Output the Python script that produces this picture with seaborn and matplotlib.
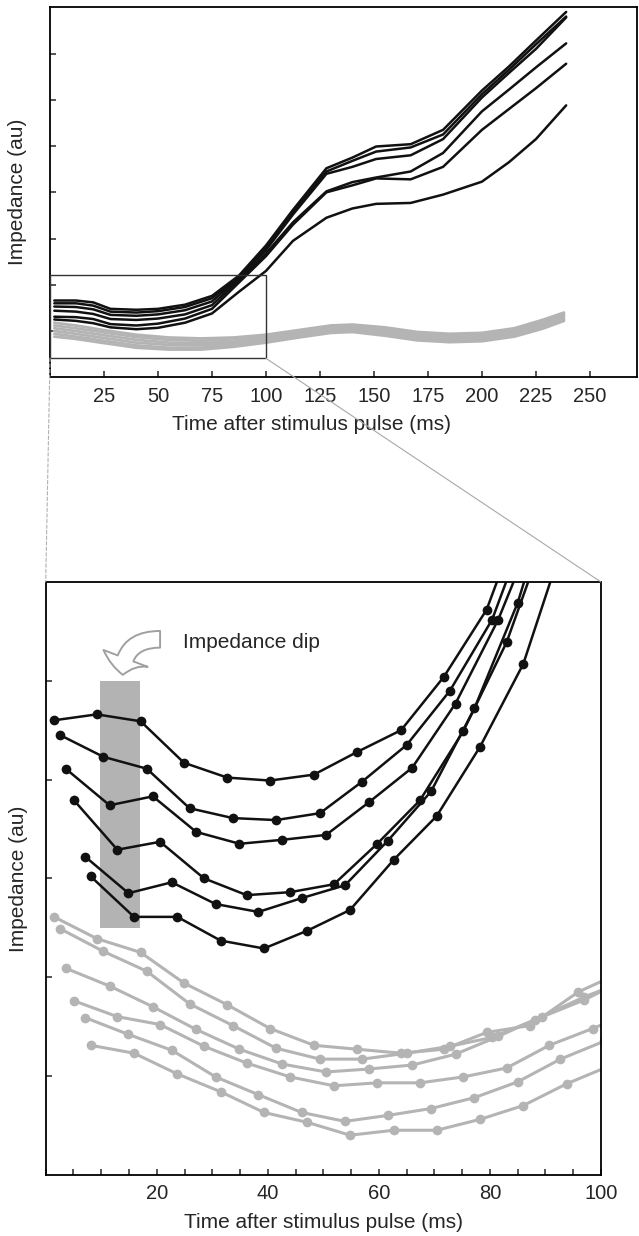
import numpy as np
import pandas as pd
import matplotlib
matplotlib.use("Agg")
import matplotlib.pyplot as plt
import matplotlib.patches as mpatches
from matplotlib.ticker import MultipleLocator
import seaborn as sns

# ------------------------------------------------------------------
# Data: top panel (full time course, smooth traces)
# ------------------------------------------------------------------
t_black_full = [2, 12, 20, 28, 40, 50, 62.5, 75, 87.5, 100, 112.5, 128, 140, 151, 167, 182, 200, 212.5, 225, 239]
black_full = [
    [1.66, 1.66, 1.62, 1.48, 1.46, 1.48, 1.57, 1.76, 2.20, 2.85, 3.62, 4.52, 4.75, 4.99, 5.04, 5.35, 6.20, 6.72, 7.28, 7.90],
    [1.60, 1.60, 1.55, 1.42, 1.40, 1.43, 1.52, 1.71, 2.17, 2.80, 3.58, 4.45, 4.68, 4.88, 4.97, 5.25, 6.12, 6.65, 7.20, 7.80],
    [1.53, 1.52, 1.47, 1.35, 1.33, 1.36, 1.45, 1.64, 2.14, 2.75, 3.52, 4.40, 4.55, 4.72, 4.80, 5.15, 6.05, 6.58, 7.10, 7.78],
    [1.44, 1.42, 1.37, 1.26, 1.24, 1.27, 1.36, 1.56, 2.10, 2.68, 3.35, 4.02, 4.22, 4.32, 4.45, 4.85, 5.75, 6.22, 6.70, 7.22],
    [1.31, 1.30, 1.26, 1.15, 1.12, 1.16, 1.27, 1.48, 2.05, 2.62, 3.30, 4.00, 4.15, 4.30, 4.28, 4.55, 5.35, 5.80, 6.25, 6.78],
    [1.25, 1.22, 1.17, 1.08, 1.04, 1.07, 1.18, 1.38, 1.85, 2.30, 2.95, 3.45, 3.65, 3.75, 3.77, 3.95, 4.23, 4.65, 5.15, 5.88],
]

t_gray_full = [2, 12, 25, 40, 55, 70, 85, 100, 115, 130, 140, 155, 170, 185, 200, 215, 228, 238]
gray_full = [
    [1.18, 1.12, 1.02, 0.92, 0.86, 0.84, 0.86, 0.92, 1.02, 1.12, 1.14, 1.08, 0.98, 0.94, 0.96, 1.06, 1.24, 1.40],
    [1.12, 1.06, 0.97, 0.87, 0.81, 0.79, 0.82, 0.89, 0.99, 1.09, 1.11, 1.05, 0.95, 0.91, 0.93, 1.03, 1.20, 1.36],
    [1.06, 1.00, 0.91, 0.81, 0.75, 0.74, 0.77, 0.85, 0.95, 1.05, 1.08, 1.02, 0.92, 0.88, 0.90, 1.00, 1.17, 1.33],
    [1.00, 0.94, 0.85, 0.75, 0.70, 0.69, 0.73, 0.81, 0.92, 1.02, 1.05, 0.98, 0.88, 0.84, 0.86, 0.96, 1.13, 1.29],
    [0.94, 0.88, 0.79, 0.69, 0.64, 0.64, 0.69, 0.78, 0.89, 0.99, 1.01, 0.94, 0.84, 0.80, 0.82, 0.92, 1.09, 1.25],
    [0.88, 0.83, 0.74, 0.64, 0.60, 0.60, 0.66, 0.75, 0.86, 0.96, 0.98, 0.90, 0.80, 0.76, 0.78, 0.88, 1.05, 1.22],
]

# ------------------------------------------------------------------
# Data: bottom panel (first 100 ms, sampled points)
# ------------------------------------------------------------------
t_zoom = [
    [1.5, 9.2, 17.1, 24.9, 32.7, 40.4, 48.3, 56.1, 64.0, 71.7, 79.4, 87.2, 95.9, 103.7],
    [2.6, 10.4, 18.2, 25.9, 33.7, 41.5, 49.4, 57.0, 65.0, 72.8, 80.4, 88.2, 97.0, 104.5],
    [3.6, 11.5, 19.3, 27.1, 34.9, 42.6, 50.5, 58.2, 66.0, 73.8, 81.5, 89.3, 97.0, 104.8],
    [5.1, 12.9, 20.6, 28.5, 36.2, 44.0, 51.9, 59.7, 67.4, 75.2, 83.0, 90.7, 98.5, 106.0],
    [7.1, 14.9, 22.7, 30.6, 38.3, 46.1, 53.9, 61.6, 69.4, 77.2, 85.0, 92.7, 100.5],
    [8.1, 15.9, 23.7, 31.5, 39.3, 47.1, 54.8, 62.7, 70.4, 78.2, 86.0, 93.8, 101.5],
]
black_zoom = [
    [4.60, 4.66, 4.59, 4.17, 4.02, 3.99, 4.05, 4.28, 4.50, 5.04, 5.72, 6.90],
    [4.45, 4.23, 4.11, 3.71, 3.61, 3.59, 3.66, 3.98, 4.35, 4.90, 5.62, 6.80],
    [4.11, 3.74, 3.83, 3.47, 3.35, 3.39, 3.44, 3.77, 4.12, 4.77, 5.62, 6.70],
    [3.79, 3.29, 3.37, 3.00, 2.83, 2.86, 2.94, 3.35, 3.79, 4.49, 5.39, 6.60],
    [3.22, 2.85, 2.96, 2.74, 2.66, 2.80, 2.93, 3.38, 3.88, 4.72, 5.79, 7.20],
    [3.02, 2.61, 2.61, 2.37, 2.29, 2.47, 2.68, 3.19, 3.63, 4.33, 5.17, 6.50],
]
gray_zoom = [
    [2.61, 2.39, 2.25, 1.94, 1.72, 1.48, 1.31, 1.27, 1.23, 1.27, 1.44, 1.51, 1.85, 2.05],
    [2.49, 2.26, 2.06, 1.73, 1.51, 1.28, 1.17, 1.17, 1.23, 1.30, 1.39, 1.57, 1.77, 1.98],
    [2.09, 1.91, 1.70, 1.47, 1.27, 1.12, 1.04, 1.07, 1.11, 1.22, 1.40, 1.60, 1.80, 1.97],
    [1.76, 1.60, 1.52, 1.30, 1.13, 0.99, 0.90, 0.93, 0.93, 0.99, 1.08, 1.31, 1.48, 1.65],
    [1.59, 1.42, 1.26, 0.99, 0.81, 0.63, 0.54, 0.60, 0.67, 0.78, 0.94, 1.17, 1.35],
    [1.31, 1.23, 1.02, 0.84, 0.63, 0.53, 0.40, 0.45, 0.45, 0.56, 0.70, 0.92, 1.10],
]

# zoom window shown in the top panel, dip window and annotation
zoom_x = (0, 100)
zoom_y = (0.41, 2.21)
dip_x = (9.8, 17.0)
dip_y = (2.5, 5.0)


def long_frame(times, series):
    rows = []
    for i, ys in enumerate(series):
        ts = times[i] if isinstance(times[0], list) else times
        for t, v in zip(ts, ys):
            rows.append({"trace": i, "time": t, "value": v})
    return pd.DataFrame(rows)


df_black_full = long_frame(t_black_full, black_full)
df_gray_full = long_frame(t_gray_full, gray_full)
df_black_zoom = long_frame(t_zoom, black_zoom)
df_gray_zoom = long_frame(t_zoom, gray_zoom)

# ------------------------------------------------------------------
# Plot
# ------------------------------------------------------------------
sns.set_style("ticks")
plt.rcParams["font.family"] = ["Liberation Sans", "DejaVu Sans"]

BLACK = "#111111"
GRAY = "#b4b4b4"
W, H = 639, 1236

fig = plt.figure(figsize=(W / 100, H / 100), dpi=100)
ax_top = fig.add_axes([50 / W, 1 - 377.3 / H, 587 / W, 370 / H])
ax_bot = fig.add_axes([45.7 / W, 1 - 1174.7 / H, 555.3 / W, 592.7 / H])

# --- top panel
sns.lineplot(data=df_gray_full, x="time", y="value", units="trace", estimator=None,
             color=GRAY, lw=2.0, ax=ax_top, legend=False)
sns.lineplot(data=df_black_full, x="time", y="value", units="trace", estimator=None,
             color=BLACK, lw=1.8, ax=ax_top, legend=False)
ax_top.add_patch(mpatches.Rectangle((zoom_x[0], zoom_y[0]), zoom_x[1] - zoom_x[0],
                                    zoom_y[1] - zoom_y[0], fill=False,
                                    ec="#333333", lw=1.0, zorder=5))
ax_top.set_xlim(0, 271.8)
ax_top.set_ylim(0, 8)
ax_top.set_xticks(np.arange(25, 251, 25))
ax_top.set_yticks(np.arange(1, 8))
ax_top.set_yticklabels([])

# --- bottom panel
ax_bot.add_patch(mpatches.Rectangle((dip_x[0], dip_y[0]), dip_x[1] - dip_x[0],
                                    dip_y[1] - dip_y[0], color="#b3b3b3",
                                    lw=0, zorder=0))
sns.lineplot(data=df_gray_zoom, x="time", y="value", units="trace", estimator=None,
             color=GRAY, lw=2.2, marker="o", markersize=7, markeredgewidth=0,
             ax=ax_bot, legend=False)
sns.lineplot(data=df_black_zoom, x="time", y="value", units="trace", estimator=None,
             color=BLACK, lw=1.8, marker="o", markersize=7, markeredgewidth=0,
             ax=ax_bot, legend=False)
ax_bot.set_xlim(0, 100)
ax_bot.set_ylim(0, 6)
ax_bot.set_xticks([20, 40, 60, 80, 100])
ax_bot.xaxis.set_minor_locator(MultipleLocator(5))
ax_bot.set_yticks(np.arange(1, 6))
ax_bot.set_yticklabels([])

ax_bot.annotate("", xy=(13.9, 5.06), xytext=(20.6, 5.42),
                arrowprops=dict(arrowstyle="simple,head_length=0.6,head_width=1.7,tail_width=0.6",
                                connectionstyle="angle3,angleA=0,angleB=90",
                                fc="white", ec="#a0a0a0", lw=1.4,
                                shrinkA=0, shrinkB=0, mutation_scale=20))
ax_bot.text(24.8, 5.39, "Impedance dip", fontsize=15, va="center", ha="left")

# --- common styling
for ax in (ax_top, ax_bot):
    for sp in ax.spines.values():
        sp.set_visible(True)
        sp.set_linewidth(1.3)
        sp.set_color("black")
    ax.tick_params(which="both", direction="in", length=4.5, width=1.1,
                   labelsize=14.5, pad=7)
    ax.set_xlabel("Time after stimulus pulse (ms)", fontsize=15)
    ax.set_ylabel("Impedance (au)", fontsize=15)

ax_top.xaxis.set_label_coords(0.446, -38 / 370)
ax_top.yaxis.set_label_coords(-0.040, 0.5)
ax_bot.xaxis.set_label_coords(0.5, -38 / 592.7)
ax_bot.yaxis.set_label_coords(-0.031, 0.5)

# zoom connector lines
con_l = mpatches.ConnectionPatch(xyA=(zoom_x[0], zoom_y[0]), coordsA=ax_top.transData,
                                 xyB=(0, 6), coordsB=ax_bot.transData,
                                 color="#b0b0b0", lw=0.8, ls=(0, (3, 2)))
con_r = mpatches.ConnectionPatch(xyA=(zoom_x[1], zoom_y[0]), coordsA=ax_top.transData,
                                 xyB=(100, 6), coordsB=ax_bot.transData,
                                 color="#a8a8a8", lw=0.8)
fig.add_artist(con_l)
fig.add_artist(con_r)

fig.savefig("out.png", dpi=100)
